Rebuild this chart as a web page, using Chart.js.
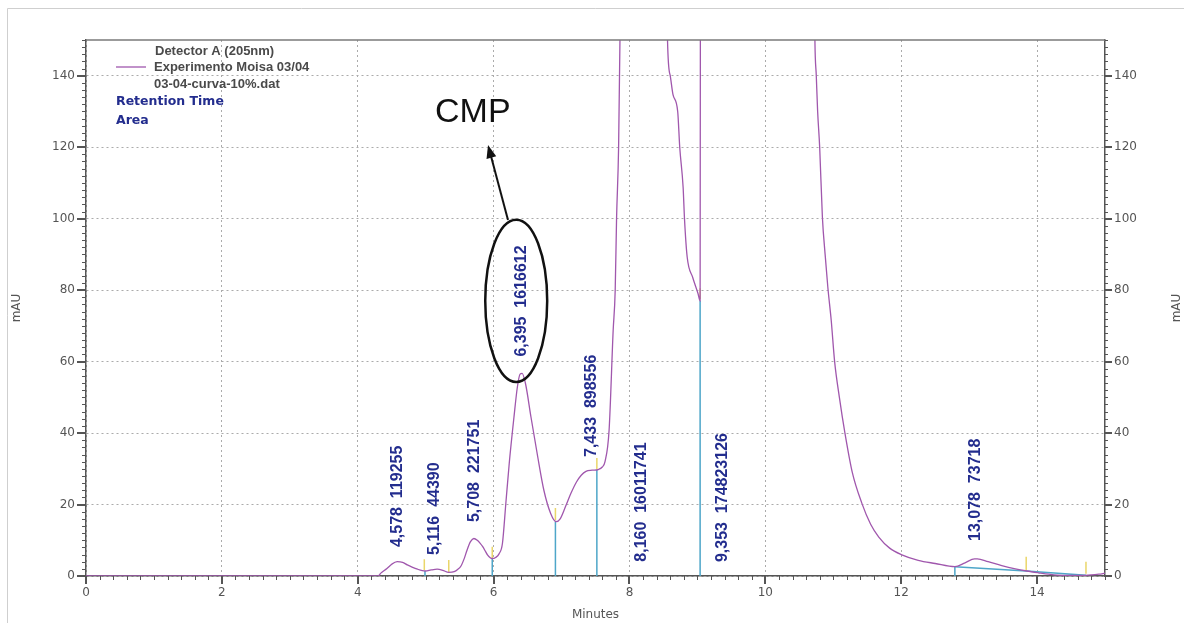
<!DOCTYPE html>
<html>
<head>
<meta charset="utf-8">
<script src="https://cdn.jsdelivr.net/npm/chart.js@4.4.1/dist/chart.umd.min.js"></script>
<style>
  html, body { margin: 0; padding: 0; background: #fff; }
  canvas { display: block; }
</style>
</head>
<body>
<canvas id="chart" width="1184" height="623"></canvas>
<script>
// detector trace (minutes / mAU); anything over 150 is off scale
const timeMin = [0, 4.30, 4.34, 4.43, 4.50, 4.58, 4.66, 4.73, 4.80, 4.88,
  4.95, 5.00, 5.08, 5.17, 5.25, 5.34, 5.42, 5.47, 5.52, 5.57,
  5.61, 5.66, 5.71, 5.76, 5.80, 5.84, 5.88, 5.91, 5.95, 5.98,
  6.03, 6.08, 6.13, 6.18, 6.23, 6.30, 6.35, 6.39, 6.42, 6.47,
  6.55, 6.65, 6.74, 6.84, 6.92, 6.98, 7.06, 7.14, 7.22, 7.29,
  7.36, 7.45, 7.54, 7.60, 7.64, 7.70, 7.76, 7.79, 7.81, 7.84,
  7.86, 7.95, 8.16, 8.45, 8.56, 8.60, 8.64, 8.71, 8.74, 8.79,
  8.81, 8.85, 8.93, 9.01, 9.04, 9.05, 9.35, 10.60, 10.73, 10.75,
  10.77, 10.80, 10.84, 10.88, 10.92, 10.97, 11.02, 11.09, 11.17, 11.28,
  11.42, 11.55, 11.67, 11.83, 12.00, 12.25, 12.50, 12.79, 12.94, 13.08,
  13.12, 13.28, 13.48, 13.68, 13.85, 14.02, 14.17, 14.37, 14.71, 14.91,
  15.00];
const signal = [0, 0, 0.8, 2.1, 3.3, 4.0, 3.8, 3.1, 2.5, 1.9,
  1.5, 1.4, 1.7, 1.9, 1.6, 1.0, 1.2, 1.8, 2.8, 5.0,
  7.3, 9.6, 10.5, 10.0, 9.2, 8.2, 6.9, 5.9, 5.1, 4.9,
  5.2, 6.2, 9.1, 20.3, 31.5, 44.5, 52.9, 56.5, 56.7, 53.8,
  44.5, 33.3, 24.0, 17.5, 15.2, 16.0, 19.5, 23.2, 26.3, 28.2,
  29.3, 29.6, 29.8, 30.5, 32.0, 40.8, 68.7, 80, 100, 120,
  150, 400, 900, 400, 150, 140, 134.8, 130, 120, 108.7,
  100, 89.2, 83.6, 79, 77, 300, 2000, 400, 149.7, 140,
  130, 120, 100.4, 90, 80.8, 71.5, 60, 50, 40.2, 29,
  20.4, 14.5, 10.9, 7.8, 6.0, 4.4, 3.5, 2.6, 3.7, 4.8,
  4.8, 4.0, 2.9, 2.0, 1.4, 0.9, 0.5, 0.2, 0.2, 0.5,
  0.8];

const xTicks = [0, 2, 4, 6, 8, 10, 12, 14];
const yTicks = [0, 20, 40, 60, 80, 100, 120, 140];

// peak table
const peakTimes = [4.578, 5.116, 5.708, 6.395, 7.433, 8.160, 9.353, 13.078];
const peakAreas = ['119255', '44390', '221751', '1616612', '898556', '16011741', '174823126', '73718'];
const labelBase = [8.1, 5.9, 15.1, 61.4, 33.3, 4.0, 3.9, 9.8];

// integration drop lines, start/end marks and baseline
const dropTimes = [4.99, 5.98, 6.91, 7.52, 9.04, 12.79];
const dropTops = [1.4, 4.9, 15.2, 29.7, 77, 2.6];
const markTimes = [4.98, 5.34, 5.98, 6.91, 7.52, 9.04, 13.84, 14.72];
const markLow = [1.6, 1.1, 5.0, 15.6, 29.9, 77.5, 1.5, 0.6];
const markHigh = [4.7, 4.5, 8.2, 19.0, 33.0, 80.5, 5.4, 4.0];
const baseTimes = [12.79, 13.84, 14.72];
const baseValues = [2.6, 1.4, 0.2];

function segments(xs, lo, hi) {
    const pts = [];
    xs.forEach((x, i) => {
        pts.push({ x: x, y: lo[i] }, { x: x, y: hi[i] }, { x: x, y: null });
    });
    return pts;
}

const navy = '#232d8e';
const tickFont = { family: 'DejaVu Sans', size: 12 };

const annotate = {
    id: 'annotate',
    beforeDraw(chart) {
        const { ctx, width, height } = chart;
        ctx.save();
        ctx.fillStyle = '#fff';
        ctx.fillRect(0, 0, width, height);
        ctx.strokeStyle = '#cfcfcf';
        ctx.lineWidth = 1;
        ctx.beginPath();
        ctx.moveTo(7.5, height);
        ctx.lineTo(7.5, 8.5);
        ctx.lineTo(width, 8.5);
        ctx.stroke();
        ctx.restore();
    },
    afterDatasetsDraw(chart) {
        const { ctx, scales: { x, y } } = chart;
        ctx.save();

        // peak labels
        ctx.fillStyle = navy;
        ctx.font = 'bold 16px "Liberation Sans", Arial, sans-serif';
        ctx.textAlign = 'left';
        ctx.textBaseline = 'middle';
        peakTimes.forEach((t, i) => {
            ctx.save();
            ctx.translate(x.getPixelForValue(t), y.getPixelForValue(labelBase[i]));
            ctx.rotate(-Math.PI / 2);
            ctx.fillText(t.toFixed(3).replace('.', ',') + '  ' + peakAreas[i], 0, 1);
            ctx.restore();
        });

        // CMP callout
        ctx.strokeStyle = '#111';
        ctx.fillStyle = '#111';
        ctx.lineWidth = 2.5;
        const cx = x.getPixelForValue(6.333), cy = y.getPixelForValue(77);
        const rx = x.getPixelForValue(6.333 + 0.456) - cx;
        const ry = cy - y.getPixelForValue(77 + 22.7);
        ctx.beginPath();
        ctx.ellipse(cx, cy, rx, ry, 0, 0, Math.PI * 2);
        ctx.stroke();

        const ax = x.getPixelForValue(6.212), ay = y.getPixelForValue(99.6);
        const tx = x.getPixelForValue(5.918), ty = y.getPixelForValue(120.6);
        const ang = Math.atan2(ty - ay, tx - ax);
        ctx.lineWidth = 2;
        ctx.beginPath();
        ctx.moveTo(ax, ay);
        ctx.lineTo(tx - 8 * Math.cos(ang), ty - 8 * Math.sin(ang));
        ctx.stroke();
        ctx.beginPath();
        ctx.moveTo(tx, ty);
        ctx.lineTo(tx - 13 * Math.cos(ang) + 5 * Math.sin(ang), ty - 13 * Math.sin(ang) - 5 * Math.cos(ang));
        ctx.lineTo(tx - 13 * Math.cos(ang) - 5 * Math.sin(ang), ty - 13 * Math.sin(ang) + 5 * Math.cos(ang));
        ctx.closePath();
        ctx.fill();

        ctx.font = '34px "Liberation Sans", Arial, sans-serif';
        ctx.textBaseline = 'alphabetic';
        ctx.fillText('CMP', x.getPixelForValue(5.138), y.getPixelForValue(127.1));
        ctx.restore();
    },
    afterDraw(chart) {
        const { ctx, chartArea: a, scales: { x, y } } = chart;
        ctx.save();
        ctx.strokeStyle = '#555';
        ctx.lineWidth = 1;
        ctx.beginPath();
        for (let v = 0; v <= 150; v += 2) {
            const py = Math.round(y.getPixelForValue(v)) + 0.5;
            const major = v % 20 === 0;
            ctx.moveTo(a.left, py);
            ctx.lineTo(a.left - (major ? 9 : 4), py);
            ctx.moveTo(a.right, py);
            ctx.lineTo(a.right + (major ? 7 : 3), py);
        }
        for (let i = 0; i <= 75; i++) {
            const px = Math.round(x.getPixelForValue(i * 0.2)) + 0.5;
            const major = i % 10 === 0;
            ctx.moveTo(px, a.bottom);
            ctx.lineTo(px, a.bottom + (major ? 8 : 4));
        }
        ctx.stroke();
        if (true) {
            ctx.lineWidth = 2;
            ctx.beginPath();
            xTicks.forEach(v => {
                const px = Math.round(x.getPixelForValue(v));
                ctx.moveTo(px, a.bottom);
                ctx.lineTo(px, a.bottom + 8);
            });
            yTicks.forEach(v => {
                const py = Math.round(y.getPixelForValue(v));
                ctx.moveTo(a.left, py);
                ctx.lineTo(a.left - 9, py);
                ctx.moveTo(a.right, py);
                ctx.lineTo(a.right + 7, py);
            });
            ctx.stroke();
        }

        // frame top
        ctx.strokeStyle = '#7a7a7a';
        ctx.lineWidth = 1.5;
        ctx.beginPath();
        ctx.moveTo(a.left, a.top);
        ctx.lineTo(a.right, a.top);
        ctx.stroke();

        // right axis title
        ctx.fillStyle = '#555';
        ctx.font = '12px "DejaVu Sans"';
        ctx.textAlign = 'center';
        ctx.textBaseline = 'middle';
        ctx.save();
        ctx.translate(1177, (a.top + a.bottom) / 2);
        ctx.rotate(-Math.PI / 2);
        ctx.fillText('mAU', 0, 0);
        ctx.restore();

        // legend block
        ctx.strokeStyle = '#a057ad';
        ctx.lineWidth = 1.3;
        ctx.beginPath();
        ctx.moveTo(116, 67);
        ctx.lineTo(146, 67);
        ctx.stroke();
        ctx.textAlign = 'left';
        ctx.fillStyle = '#4a4a4a';
        ctx.font = 'bold 13px "Liberation Sans", Arial, sans-serif';
        ctx.fillText('Detector A (205nm)', 155, 51);
        ctx.fillText('Experimento Moisa 03/04', 154, 67);
        ctx.fillText('03-04-curva-10%.dat', 154, 84);
        ctx.fillStyle = navy;
        ctx.font = 'bold 12.5px "DejaVu Sans"';
        ctx.fillText('Retention Time', 116, 102);
        ctx.fillText('Area', 116, 121);
        ctx.restore();
    }
};

const gridStyle = { color: '#ababab', lineWidth: 1, drawTicks: false };
const borderStyle = { display: true, color: '#555', width: 1.5, dash: [2, 3] };

new Chart(document.getElementById('chart'), {
    type: 'line',
    data: {
        datasets: [
            {
                label: 'Experimento Moisa 03/04',
                data: timeMin.map((t, i) => ({ x: t, y: signal[i] })),
                borderColor: '#a057ad',
                borderWidth: 1.3,
                pointRadius: 0,
                cubicInterpolationMode: 'monotone',
                order: 0
            },
            {
                label: 'baseline',
                data: baseTimes.map((t, i) => ({ x: t, y: baseValues[i] })),
                borderColor: '#4ea6c9',
                borderWidth: 1.5,
                pointRadius: 0,
                order: 1
            },
            {
                label: 'drops',
                data: segments(dropTimes, dropTimes.map(() => 0), dropTops),
                borderColor: '#4ea6c9',
                borderWidth: 1.5,
                pointRadius: 0,
                spanGaps: false,
                order: 2
            },
            {
                label: 'marks',
                data: segments(markTimes, markLow, markHigh),
                borderColor: '#ead66a',
                borderWidth: 1.5,
                pointRadius: 0,
                spanGaps: false,
                order: 3
            }
        ]
    },
    options: {
        responsive: false,
        animation: false,
        events: [],
        layout: { padding: { top: 40, left: 0, right: 0, bottom: 0 } },
        plugins: {
            legend: { display: false },
            tooltip: { enabled: false }
        },
        scales: {
            x: {
                type: 'linear',
                min: 0,
                max: 15,
                position: 'bottom',
                afterBuildTicks: s => { s.ticks = xTicks.map(v => ({ value: v })); },
                afterFit: s => { s.height = 47; },
                ticks: { color: '#555', font: tickFont, padding: 10, maxRotation: 0 },
                grid: gridStyle,
                border: borderStyle,
                title: { display: true, text: 'Minutes', color: '#555', font: tickFont, padding: { top: 0, bottom: 1 } }
            },
            y: {
                min: 0,
                max: 150,
                position: 'left',
                afterBuildTicks: s => { s.ticks = yTicks.map(v => ({ value: v })); },
                afterFit: s => { s.width = 86; },
                ticks: { color: '#555', font: tickFont, padding: 11 },
                grid: gridStyle,
                border: borderStyle,
                title: { display: true, text: 'mAU', color: '#555', font: tickFont, padding: { top: 10, bottom: 0 } }
            },
            y2: {
                min: 0,
                max: 150,
                position: 'right',
                afterBuildTicks: s => { s.ticks = yTicks.map(v => ({ value: v })); },
                afterFit: s => { s.width = 79; },
                ticks: { color: '#555', font: tickFont, padding: 9 },
                grid: { display: false, drawTicks: false },
                border: { display: true, color: '#555', width: 1.5 }
            }
        }
    },
    plugins: [annotate]
});
</script>
</body>
</html>
